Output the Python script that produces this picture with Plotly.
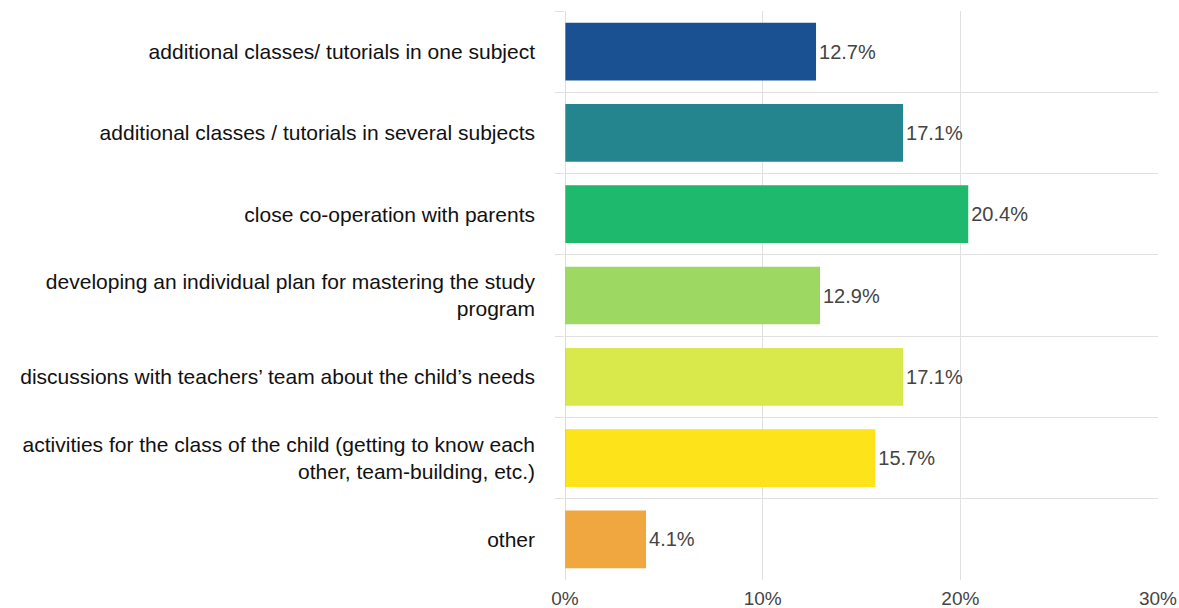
import plotly.graph_objects as go

categories = [
    "additional classes/ tutorials in one subject",
    "additional classes / tutorials in several subjects",
    "close co-operation with parents",
    "developing an individual plan for mastering the study<br>program",
    "discussions with teachers\u2019 team about the child\u2019s needs",
    "activities for the class of the child (getting to know each<br>other, team-building, etc.)",
    "other",
]
values = [12.7, 17.1, 20.4, 12.9, 17.1, 15.7, 4.1]
labels = ["12.7%", "17.1%", "20.4%", "12.9%", "17.1%", "15.7%", "4.1%"]
colors = ["#1a5192", "#24858f", "#1eb96d", "#9dd862", "#d9e84b", "#fde31a", "#f0a73f"]
x_ticks = [0, 10, 20, 30]
x_ticktext = ["0%", "10%", "20%", "30%"]

fig = go.Figure(go.Bar(
    y=categories, x=values, orientation="h",
    marker=dict(color=colors, line=dict(width=0)),
    text=labels, textposition="outside", cliponaxis=False,
    textfont=dict(color="#444444", size=20, family="Liberation Sans, Arial"),
    width=0.71,
))

fig.update_layout(
    width=1179, height=608,
    margin=dict(l=565, r=21, t=11, b=28, autoexpand=False),
    paper_bgcolor="white", plot_bgcolor="white",
    font=dict(family="Liberation Sans, Arial", size=20, color="#111111"),
    showlegend=False,
)
fig.update_xaxes(
    range=[0, 30], tickvals=x_ticks, ticktext=x_ticktext,
    showgrid=True, gridcolor="#e0e0e0", gridwidth=1,
    zeroline=False, showline=False, automargin=False,
    tickfont=dict(size=19, color="#444444"),
    ticklabelstandoff=5,
)
fig.update_yaxes(
    autorange="reversed", type="category", automargin=False,
    tickson="boundaries", showgrid=True, gridcolor="#e0e0e0", gridwidth=1,
    ticks="outside", ticklen=9, tickcolor="#e0e0e0",
    ticklabelstandoff=29,
    tickfont=dict(size=21, color="#111111"),
    showline=False,
)
fig.add_vline(x=0, line_color="#bdbdbd", line_width=1)

fig.write_html("out.html")
